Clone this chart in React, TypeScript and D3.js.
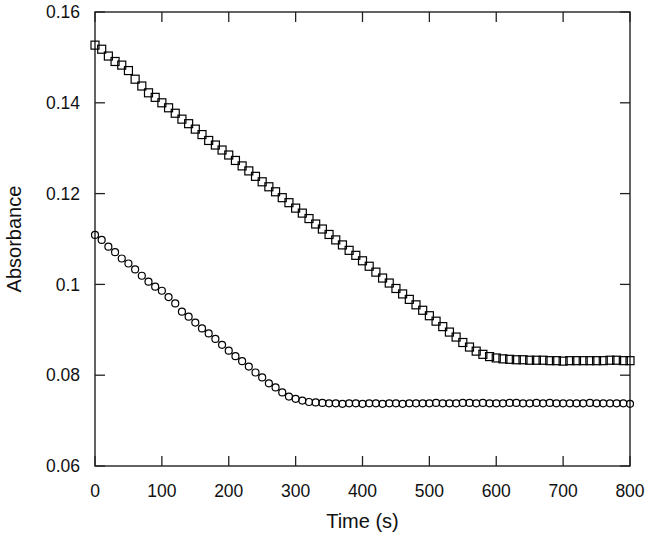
import React from "react";
import * as d3 from "d3";

const times: number[] = d3.range(0, 801, 10);

const squareSeries: number[] = [
  0.1527, 0.1518, 0.1503, 0.1491, 0.1483, 0.1471, 0.1452, 0.1437, 0.1422, 0.1412,
  0.1400, 0.1389, 0.1377, 0.1364, 0.1354, 0.1342, 0.1330, 0.1317, 0.1307, 0.1296,
  0.1285, 0.1273, 0.1261, 0.1250, 0.1238, 0.1226, 0.1215, 0.1204, 0.1191, 0.1180,
  0.1168, 0.1157, 0.1145, 0.1133, 0.1122, 0.1110, 0.1098, 0.1087, 0.1075, 0.1064,
  0.1052, 0.1040, 0.1027, 0.1014, 0.1003, 0.0991, 0.0979, 0.0967, 0.0955, 0.0943,
  0.0931, 0.0919, 0.0907, 0.0895, 0.0884, 0.0872, 0.0862, 0.0853, 0.0846, 0.0841,
  0.0838, 0.0836, 0.0835, 0.0834, 0.0834, 0.0833, 0.0833, 0.0833, 0.0832, 0.0832,
  0.0831, 0.0832, 0.0832, 0.0832, 0.0832, 0.0832, 0.0832, 0.0833, 0.0833, 0.0832,
  0.0832,
];

const circleSeries: number[] = [
  0.1109, 0.1098, 0.1083, 0.1071, 0.1057, 0.1046, 0.1033, 0.1019, 0.1006, 0.0995,
  0.0986, 0.0972, 0.0958, 0.0940, 0.0929, 0.0916, 0.0903, 0.0892, 0.0880, 0.0867,
  0.0854, 0.0842, 0.0831, 0.0819, 0.0806, 0.0795, 0.0782, 0.0773, 0.0762, 0.0753,
  0.0748, 0.0744, 0.0741, 0.0740, 0.0739, 0.0738, 0.0738, 0.0737, 0.0738, 0.0738,
  0.0737, 0.0738, 0.0738, 0.0737, 0.0738, 0.0738, 0.0737, 0.0738, 0.0738, 0.0738,
  0.0738, 0.0739, 0.0738, 0.0738, 0.0738, 0.0739, 0.0739, 0.0738, 0.0739, 0.0738,
  0.0738, 0.0738, 0.0739, 0.0739, 0.0738, 0.0738, 0.0739, 0.0738, 0.0739, 0.0738,
  0.0738, 0.0738, 0.0738, 0.0738, 0.0739, 0.0738, 0.0738, 0.0738, 0.0738, 0.0738,
  0.0737,
];

const xTicks: number[] = [0, 100, 200, 300, 400, 500, 600, 700, 800];
const yTicks: number[] = [0.06, 0.08, 0.1, 0.12, 0.14, 0.16];
const yTickLabels: string[] = ["0.06", "0.08", "0.1", "0.12", "0.14", "0.16"];
const xTitle = "Time (s)";
const yTitle = "Absorbance";

const W = 649;
const H = 540;
const left = 95;
const right = 630;
const top = 12;
const bottom = 466;

export default function App() {
  const x = d3.scaleLinear().domain([0, 800]).range([left, right]);
  const y = d3.scaleLinear().domain([0.06, 0.16]).range([bottom, top]);
  const axisColor = "#222";
  const tickLen = 10;
  const font = "'Liberation Sans', Arial, sans-serif";
  const sq = 8;

  return (
    <svg
      width={W}
      height={H}
      style={{ position: "absolute", left: 0, top: 0, background: "#fff" }}
      fontFamily={font}
    >
      <rect x={0} y={0} width={W} height={H} fill="#fff" />
      {/* frame */}
      <rect
        x={left}
        y={top}
        width={right - left}
        height={bottom - top}
        fill="none"
        stroke={axisColor}
        strokeWidth={1.4}
      />
      {/* x ticks bottom & top */}
      {xTicks.map((t) => (
        <g key={"xt" + t}>
          <line x1={x(t)} x2={x(t)} y1={bottom} y2={bottom - tickLen} stroke={axisColor} strokeWidth={1.3} />
          <line x1={x(t)} x2={x(t)} y1={top} y2={top + tickLen} stroke={axisColor} strokeWidth={1.3} />
          <text x={x(t)} y={bottom + 31} textAnchor="middle" fontSize={17.5} fill="#111">
            {t}
          </text>
        </g>
      ))}
      {/* y ticks left & right */}
      {yTicks.map((v, i) => (
        <g key={"yt" + i}>
          <line x1={left} x2={left + tickLen} y1={y(v)} y2={y(v)} stroke={axisColor} strokeWidth={1.3} />
          <line x1={right} x2={right - tickLen} y1={y(v)} y2={y(v)} stroke={axisColor} strokeWidth={1.3} />
          <text x={80} y={y(v)} dy="0.35em" textAnchor="end" fontSize={17.5} fill="#111">
            {yTickLabels[i]}
          </text>
        </g>
      ))}
      {/* series: squares */}
      {times.map((t, i) => (
        <rect
          key={"s" + i}
          x={x(t) - sq / 2}
          y={y(squareSeries[i]) - sq / 2}
          width={sq}
          height={sq}
          fill="none"
          stroke="#000"
          strokeWidth={1.2}
        />
      ))}
      {/* series: circles */}
      {times.map((t, i) => (
        <circle
          key={"c" + i}
          cx={x(t)}
          cy={y(circleSeries[i])}
          r={3.5}
          fill="none"
          stroke="#000"
          strokeWidth={1.2}
        />
      ))}
      <text x={(left + right) / 2} y={528} textAnchor="middle" fontSize={20} fill="#111">
        {xTitle}
      </text>
      <text
        transform={`translate(21, ${(top + bottom) / 2}) rotate(-90)`}
        textAnchor="middle"
        fontSize={20}
        fill="#111"
      >
        {yTitle}
      </text>
    </svg>
  );
}
